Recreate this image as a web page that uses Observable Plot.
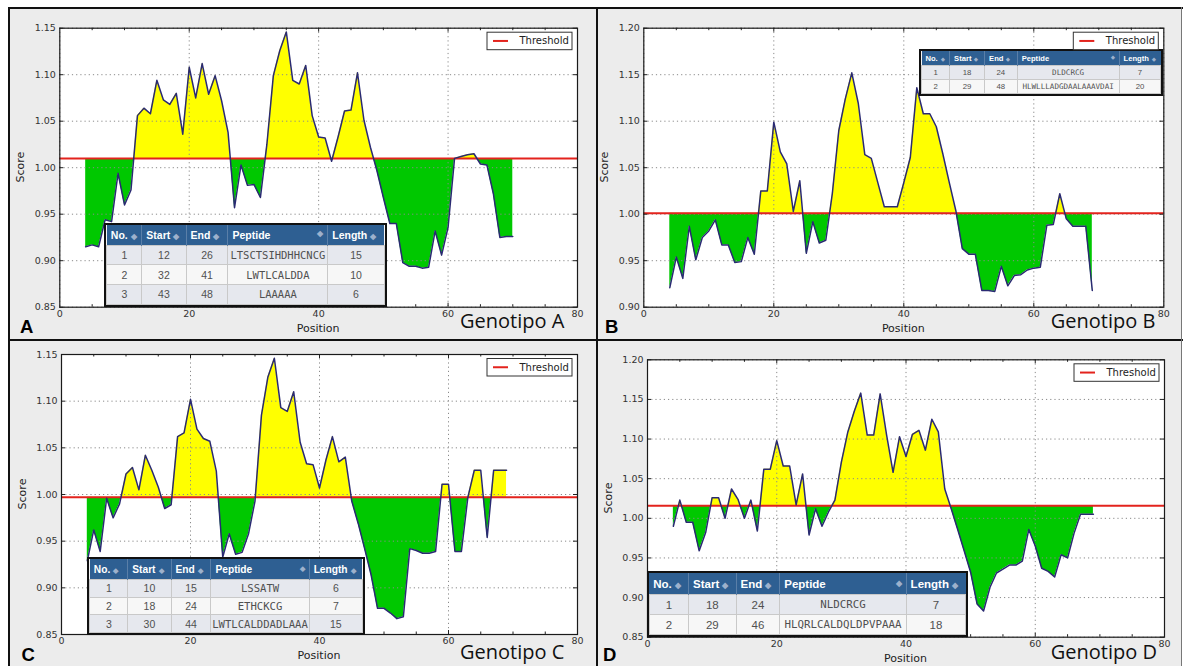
<!DOCTYPE html>
<html>
<head>
<meta charset="utf-8">
<script src="https://cdn.jsdelivr.net/npm/d3@7"></script>
<script src="https://cdn.jsdelivr.net/npm/@observablehq/plot@0.6"></script>
<style>
  body { margin: 0; background: #ffffff; }
  #root { position: relative; width: 1184px; height: 666px; overflow: hidden; background: #fff; }
  .pbg { position: absolute; background: #ececec; }
  .blk { position: absolute; background: #111; }
  .plotwrap { position: absolute; }
  .tbl { position: absolute; box-sizing: border-box; border: 2px solid #111; background: #f6f6f6; }
  .tbl table { width: 100%; height: 100%; border-collapse: collapse; table-layout: fixed; }
  .tbl th { background: #2e5f92; color: #fff; font-family: "Liberation Sans", Arial, sans-serif; font-weight: bold; text-align: left; border-right: 1px solid #5a7fa8; white-space: nowrap; overflow: hidden; padding: 0 0 0 4px; }
  .tbl th:last-child { border-right: none; }
  .tbl td { text-align: center; color: #505050; font-family: "Liberation Sans", Arial, sans-serif; border: 1px solid #c9c9c9; white-space: nowrap; overflow: hidden; padding: 0; }
  .tbl tr.odd td { background: #e6e8ee; }
  .tbl tr.even td { background: #f7f7f7; }
  .tbl td.mono { font-family: "DejaVu Sans Mono", "Liberation Mono", monospace; }
  .tbl .ic { color: #9db1cc; font-size: 0.72em; margin-left: 3px; }
  .tbl .icr { float: right; color: #9db1cc; font-size: 0.72em; margin-right: 4px; }
  #overlay { position: absolute; left: 0; top: 0; pointer-events: none; }
</style>
</head>
<body>
<div id="root"></div>
<script>
// ---------------- data ----------------
const positionStart = 4;

const scoresA = [0.915, 0.917, 0.915, 0.944, 0.942, 0.994, 0.960, 0.976, 1.056, 1.064,
  1.058, 1.094, 1.073, 1.068, 1.080, 1.036, 1.108, 1.075, 1.112, 1.079,
  1.099, 1.072, 1.038, 0.957, 1.003, 0.981, 0.982, 0.968, 1.025, 1.099,
  1.126, 1.146, 1.094, 1.090, 1.110, 1.056, 1.033, 1.032, 1.007, 1.033,
  1.061, 1.062, 1.102, 1.051, 1.022, 0.997, 0.968, 0.940, 0.940, 0.898,
  0.894, 0.894, 0.892, 0.893, 0.932, 0.906, 0.936, 1.010, 1.012, 1.014,
  1.015, 1.004, 1.003, 0.972, 0.925, 0.926, 0.926];

const scoresB = [0.921, 0.954, 0.931, 0.987, 0.951, 0.975, 0.982, 0.994, 0.967, 0.967,
  0.948, 0.949, 0.975, 0.957, 1.025, 1.025, 1.099, 1.067, 1.054, 1.003,
  1.036, 0.958, 0.992, 0.969, 0.972, 1.022, 1.090, 1.124, 1.152, 1.119,
  1.064, 1.060, 1.034, 1.008, 1.008, 1.008, 1.034, 1.061, 1.136, 1.108,
  1.108, 1.094, 1.065, 1.034, 1.004, 0.963, 0.957, 0.957, 0.918, 0.918,
  0.917, 0.944, 0.923, 0.934, 0.935, 0.940, 0.942, 0.943, 0.988, 0.989,
  1.022, 0.995, 0.987, 0.987, 0.987, 0.918];

const scoresC = [0.929, 0.962, 0.939, 0.996, 0.975, 0.990, 1.022, 1.029, 1.005, 1.042,
  1.026, 1.008, 0.985, 0.989, 1.062, 1.066, 1.102, 1.070, 1.060, 1.057,
  1.025, 0.933, 0.958, 0.936, 0.938, 0.958, 0.993, 1.085, 1.126, 1.146,
  1.093, 1.089, 1.110, 1.056, 1.033, 1.032, 1.007, 1.037, 1.062, 1.035,
  1.040, 0.993, 0.969, 0.942, 0.914, 0.878, 0.878, 0.873, 0.867, 0.869,
  0.942, 0.940, 0.937, 0.937, 0.939, 1.011, 1.011, 0.939, 0.939, 0.997,
  1.026, 1.026, 0.954, 1.026, 1.026, 1.026];

const scoresD = [0.990, 1.023, 0.995, 0.995, 0.959, 0.982, 1.026, 1.026, 1.000, 1.037,
  1.024, 1.000, 1.023, 0.984, 1.062, 1.062, 1.098, 1.066, 1.066, 1.017,
  1.056, 0.979, 1.012, 0.990, 1.008, 1.023, 1.071, 1.109, 1.135, 1.158,
  1.105, 1.105, 1.157, 1.105, 1.058, 1.103, 1.078, 1.106, 1.111, 1.086,
  1.125, 1.109, 1.037, 1.012, 0.986, 0.959, 0.932, 0.892, 0.883, 0.913,
  0.931, 0.936, 0.941, 0.941, 0.946, 0.986, 0.965, 0.937, 0.933, 0.926,
  0.954, 0.950, 0.981, 1.005, 1.005, 1.005];

const thresholdA = 1.010;
const thresholdB = 1.001;
const thresholdC = 0.997;
const thresholdD = 1.016;

const xTicks = [0, 20, 40, 60, 80];
const xMinorTicks = [5, 10, 15, 25, 30, 35, 45, 50, 55, 65, 70, 75];
const xInnerTicks = [20, 40, 60];
const yTicksAC = [0.85, 0.90, 0.95, 1.00, 1.05, 1.10, 1.15];
const yTicksB = [0.90, 0.95, 1.00, 1.05, 1.10, 1.15, 1.20];
const yTicksD = [0.85, 0.90, 0.95, 1.00, 1.05, 1.10, 1.15, 1.20];

const tableColumns = ["No.", "Start", "End", "Peptide", "Length"];
const peptidesA = [[1, 12, 26, "LTSCTSIHDHHCNCG", 15], [2, 32, 41, "LWTLCALDDA", 10], [3, 43, 48, "LAAAAA", 6]];
const peptidesB = [[1, 18, 24, "DLDCRCG", 7], [2, 29, 48, "HLWLLLADGDAALAAAVDAI", 20]];
const peptidesC = [[1, 10, 15, "LSSATW", 6], [2, 18, 24, "ETHCKCG", 7], [3, 30, 44, "LWTLCALDDADLAAA", 15]];
const peptidesD = [[1, 18, 24, "NLDCRCG", 7], [2, 29, 46, "HLQRLCALDQLDPVPAAA", 18]];

const panelLetters = ["A", "B", "C", "D"];
const genotypeLabels = ["Genotipo A", "Genotipo B", "Genotipo C", "Genotipo D"];
const xLabel = "Position";
const yLabel = "Score";
const legendLabel = "Threshold";

// ---------------- layout ----------------
const colors = { up: "#ffff00", down: "#00c800", line: "#2a2a72", thr: "#e3231d", grid: "#8a8a8a" };

const panels = [
  { scores: scoresA, thr: thresholdA, yDomain: [0.85, 1.15], yTicks: yTicksAC, rows: peptidesA,
    svg: { left: 10, top: 9, width: 586, height: 330 },
    frame: { left: 59.3, top: 27.7, right: 577, bottom: 306.7 },
    table: { left: 104.3, top: 222.7, width: 282.4, height: 84, head: 20.7, cols: [35.7, 45, 42.7, 101.6, 57.4], hf: 10.5, bf: 10.5, mf: 10.5 },
    letter: [20, 333], geno: [460, 328.3] },
  { scores: scoresB, thr: thresholdB, yDomain: [0.90, 1.20], yTicks: yTicksB, rows: peptidesB,
    svg: { left: 598, top: 9, width: 582, height: 330 },
    frame: { left: 643.3, top: 27.7, right: 1163.3, bottom: 306.7 },
    table: { left: 919, top: 49.3, width: 244.4, height: 47, head: 14, cols: [28.7, 35.7, 33.3, 104, 42.7], hf: 7.6, bf: 7.8, mf: 7.6 },
    letter: [605, 333], geno: [1050.7, 328.3] },
  { scores: scoresC, thr: thresholdC, yDomain: [0.85, 1.15], yTicks: yTicksAC, rows: peptidesC,
    svg: { left: 10, top: 341, width: 586, height: 325 },
    frame: { left: 61, top: 354, right: 577, bottom: 634 },
    table: { left: 87.3, top: 557.3, width: 277.7, height: 78, head: 20, cols: [38.7, 44, 40.7, 100, 54.3], hf: 10.2, bf: 10.5, mf: 10.6 },
    letter: [21.5, 661], geno: [460, 659] },
  { scores: scoresD, thr: thresholdD, yDomain: [0.85, 1.20], yTicks: yTicksD, rows: peptidesD,
    svg: { left: 598, top: 341, width: 582, height: 325 },
    frame: { left: 647, top: 359.3, right: 1164, bottom: 636.7 },
    table: { left: 646.7, top: 571, width: 321.6, height: 66, head: 21.7, cols: [40, 48.3, 44.3, 128.4, 60.6], hf: 11.5, bf: 11.5, mf: 10.8 },
    letter: [603, 661], geno: [1050.7, 659] }
];

const root = document.getElementById("root");

function addDiv(cls, l, t, w, h) {
  const d = document.createElement("div");
  d.className = cls;
  Object.assign(d.style, { left: l + "px", top: t + "px", width: w + "px", height: h + "px" });
  root.appendChild(d);
  return d;
}

// panel backgrounds and borders
addDiv("pbg", 9, 8, 1173, 660);
addDiv("blk", 8, 7, 1175, 2);     // top
addDiv("blk", 8, 7, 2, 662);      // left
addDiv("blk", 596, 7, 2, 662);    // vertical divider
addDiv("blk", 8, 339, 1175, 2);   // horizontal divider
const rb = addDiv("blk", 1181, 7, 1, 662); rb.style.background = "#777";

const NS = "http://www.w3.org/2000/svg";

panels.forEach((p, idx) => {
  const data = p.scores.map((s, i) => ({ pos: positionStart + i, score: s }));
  const f = p.frame, sv = p.svg;
  const plotW = f.right - f.left, plotH = f.bottom - f.top;
  const thr = p.thr;
  const chart = Plot.plot({
    width: sv.width,
    height: sv.height,
    marginLeft: f.left - sv.left,
    marginTop: f.top - sv.top,
    marginRight: sv.left + sv.width - f.right,
    marginBottom: sv.top + sv.height - f.bottom,
    style: { fontFamily: "DejaVu Sans, sans-serif", fontSize: "9.5px", color: "#333", background: "transparent", overflow: "visible" },
    x: { domain: [0, 80], ticks: xTicks, tickSize: 0, tickPadding: 3, label: null },
    y: { domain: p.yDomain, ticks: p.yTicks, tickFormat: d3.format(".2f"), tickSize: 0, tickPadding: 4, label: null },
    marks: [
      Plot.frame({ fill: "white" }),
      Plot.areaY(data, { x: "pos", y1: () => thr, y2: "score", fill: colors.up }),
      Plot.areaY(data, { x: "pos", y1: () => thr, y2: "score", fill: colors.down }),
      Plot.ruleX(xTicks, { stroke: colors.grid, strokeDasharray: "1.2,3", strokeWidth: 1 }),
      Plot.ruleY(p.yTicks, { stroke: colors.grid, strokeDasharray: "1.2,3", strokeWidth: 1 }),
      Plot.ruleY([thr], { stroke: colors.thr, strokeWidth: 2 }),
      Plot.line(data, { x: "pos", y: "score", stroke: colors.line, strokeWidth: 1.5 }),
      Plot.ruleX(xMinorTicks, { stroke: "#222", insetTop: plotH - 2.5 }),
      Plot.ruleX(xMinorTicks, { stroke: "#222", insetBottom: plotH - 2.5 }),
      Plot.ruleX(xInnerTicks, { stroke: "#222", insetTop: plotH - 4 }),
      Plot.ruleX(xInnerTicks, { stroke: "#222", insetBottom: plotH - 4 }),
      Plot.ruleY(p.yTicks, { stroke: "#222", insetRight: plotW - 4 }),
      Plot.ruleY(p.yTicks, { stroke: "#222", insetLeft: plotW - 4 }),
      Plot.frame({ stroke: "#1a1a1a", strokeWidth: 1.2 })
    ]
  });
  // clip the two fills to above / below the threshold
  const ty = chart.scale("y").apply(thr);
  const defs = document.createElementNS(NS, "defs");
  const mk = (id, y0, h) => {
    const cp = document.createElementNS(NS, "clipPath");
    cp.setAttribute("id", id);
    const r = document.createElementNS(NS, "rect");
    r.setAttribute("x", 0); r.setAttribute("y", y0);
    r.setAttribute("width", sv.width); r.setAttribute("height", Math.max(0, h));
    cp.appendChild(r); defs.appendChild(cp);
  };
  mk("up" + idx, 0, ty);
  mk("dn" + idx, ty, sv.height - ty);
  chart.insertBefore(defs, chart.firstChild);
  const areas = chart.querySelectorAll('g[aria-label="area"]');
  if (areas[0]) areas[0].setAttribute("clip-path", `url(#up${idx})`);
  if (areas[1]) areas[1].setAttribute("clip-path", `url(#dn${idx})`);

  const wrap = addDiv("plotwrap", sv.left, sv.top, sv.width, sv.height);
  wrap.appendChild(chart);
});

// tables
panels.forEach((p) => {
  const t = p.table;
  const box = addDiv("tbl", t.left, t.top, t.width, t.height);
  const tbl = document.createElement("table");
  const cg = document.createElement("colgroup");
  const inner = t.cols.reduce((a, b) => a + b, 0);
  t.cols.forEach(w => { const c = document.createElement("col"); c.style.width = (100 * w / inner) + "%"; cg.appendChild(c); });
  tbl.appendChild(cg);
  const hr = document.createElement("tr");
  hr.style.height = t.head + "px";
  tableColumns.forEach((name) => {
    const th = document.createElement("th");
    th.style.fontSize = t.hf + "px";
    if (name === "Peptide") {
      th.innerHTML = `<span class="icr">&#9670;</span>${name}`;
    } else {
      th.innerHTML = `${name}<span class="ic">&#9670;</span>`;
    }
    hr.appendChild(th);
  });
  tbl.appendChild(hr);
  p.rows.forEach((row, i) => {
    const tr = document.createElement("tr");
    tr.className = i % 2 === 0 ? "odd" : "even";
    row.forEach((v, j) => {
      const td = document.createElement("td");
      td.textContent = v;
      if (j === 3) { td.className = "mono"; td.style.fontSize = t.mf + "px"; }
      else td.style.fontSize = t.bf + "px";
      tr.appendChild(td);
    });
    tbl.appendChild(tr);
  });
  box.appendChild(tbl);
});

// overlay texts (axis titles, legends, panel letters, genotype labels)
const ov = d3.select(root).append("svg").attr("id", "overlay").attr("width", 1184).attr("height", 666);
panels.forEach((p, i) => {
  const f = p.frame;
  ov.append("text").attr("x", (f.left + f.right) / 2).attr("y", f.bottom + 21).attr("dy", "0.35em")
    .attr("text-anchor", "middle").attr("font-family", "DejaVu Sans, sans-serif").attr("font-size", 11).attr("fill", "#222")
    .text(xLabel);
  const sx = f.left - 39, sy = (f.top + f.bottom) / 2;
  ov.append("text").attr("transform", `translate(${sx},${sy}) rotate(-90)`).attr("dy", "0.35em")
    .attr("text-anchor", "middle").attr("font-family", "DejaVu Sans, sans-serif").attr("font-size", 11).attr("fill", "#222")
    .text(yLabel);
  // legend
  const lw = 85, lh = 17.5, lx = f.right - 5 - lw, ly = f.top + 4.5;
  ov.append("rect").attr("x", lx).attr("y", ly).attr("width", lw).attr("height", lh)
    .attr("fill", "white").attr("stroke", "#333").attr("stroke-width", 1);
  ov.append("line").attr("x1", lx + 6).attr("x2", lx + 21).attr("y1", ly + lh / 2).attr("y2", ly + lh / 2)
    .attr("stroke", colors.thr).attr("stroke-width", 2);
  ov.append("text").attr("x", lx + 32.5).attr("y", ly + lh / 2).attr("dy", "0.35em")
    .attr("font-family", "DejaVu Sans, sans-serif").attr("font-size", 10).attr("fill", "#222").text(legendLabel);
  // letter and genotype
  ov.append("text").attr("x", p.letter[0]).attr("y", p.letter[1])
    .attr("font-family", "Liberation Sans, Arial, sans-serif").attr("font-weight", "bold").attr("font-size", 18.5).attr("fill", "#000")
    .text(panelLetters[i]);
  ov.append("text").attr("x", p.geno[0]).attr("y", p.geno[1])
    .attr("font-family", "Open Sans, sans-serif").attr("font-size", 20).attr("fill", "#111")
    .text(genotypeLabels[i]);
});
</script>
</body>
</html>
